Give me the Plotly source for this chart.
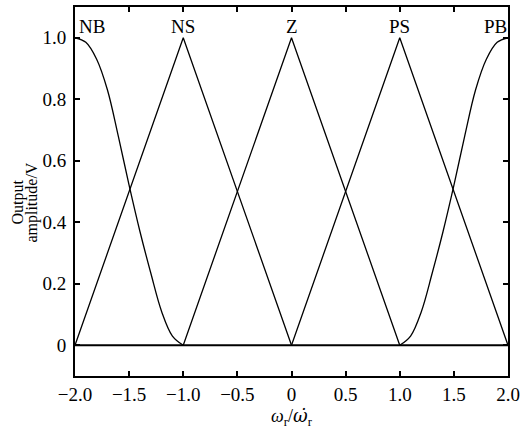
import plotly.graph_objects as go

# ---- data ----
nb_x = [-2.0, -1.9, -1.8, -1.7, -1.6, -1.5, -1.4, -1.3, -1.2, -1.1, -1.0]
nb_y = [1.0, 0.985, 0.93, 0.83, 0.68, 0.52, 0.37, 0.235, 0.11, 0.03, 0.0]
pb_x = [1.0, 1.1, 1.2, 1.3, 1.4, 1.5, 1.6, 1.7, 1.8, 1.9, 2.0]
pb_y = [0.0, 0.03, 0.11, 0.235, 0.37, 0.52, 0.68, 0.83, 0.93, 0.985, 1.0]
ns_x = [-2.0, -1.0, 0.0]
ns_y = [0.0, 1.0, 0.0]
z_x = [-1.0, 0.0, 1.0]
z_y = [0.0, 1.0, 0.0]
ps_x = [0.0, 1.0, 2.0]
ps_y = [0.0, 1.0, 0.0]
base_x = [-2.0, 2.0]
base_y = [0.0, 0.0]

set_names = ["NB", "NS", "Z", "PS", "PB"]
set_label_x = [-1.84, -1.0, 0.0, 1.0, 1.88]
set_label_y = [1.035, 1.035, 1.035, 1.035, 1.035]

x_ticks = [-2.0, -1.5, -1.0, -0.5, 0.0, 0.5, 1.0, 1.5, 2.0]
x_ticktext = ["\u22122.0", "\u22121.5", "\u22121.0", "\u22120.5", "0", "0.5", "1.0", "1.5", "2.0"]
y_ticks = [0.0, 0.2, 0.4, 0.6, 0.8, 1.0]
y_ticktext = ["0", "0.2", "0.4", "0.6", "0.8", "1.0"]

FONT = "Liberation Serif, Times New Roman, serif"

fig = go.Figure()
line = dict(color="black", width=1.3)
curve = dict(color="black", width=1.3, shape="spline", smoothing=1.0)
fig.add_trace(go.Scatter(x=nb_x, y=nb_y, mode="lines", line=curve, showlegend=False))
fig.add_trace(go.Scatter(x=ns_x, y=ns_y, mode="lines", line=line, showlegend=False))
fig.add_trace(go.Scatter(x=z_x, y=z_y, mode="lines", line=line, showlegend=False))
fig.add_trace(go.Scatter(x=ps_x, y=ps_y, mode="lines", line=line, showlegend=False))
fig.add_trace(go.Scatter(x=pb_x, y=pb_y, mode="lines", line=curve, showlegend=False))
fig.add_trace(go.Scatter(x=base_x, y=base_y, mode="lines", line=dict(color="black", width=2.2), showlegend=False))

for name, lx, ly in zip(set_names, set_label_x, set_label_y):
    fig.add_annotation(x=lx, y=ly, text=name, showarrow=False,
                       font=dict(family=FONT, size=19, color="black"),
                       xanchor="center", yanchor="middle")

fig.add_annotation(xref="paper", yref="paper", x=0, y=0.47, xshift=-57,
                   text="Output", textangle=-90, showarrow=False,
                   font=dict(family=FONT, size=16, color="black"),
                   xanchor="center", yanchor="middle")
fig.add_annotation(xref="paper", yref="paper", x=0, y=0.47, xshift=-43,
                   text="amplitude/V", textangle=-90, showarrow=False,
                   font=dict(family=FONT, size=16, color="black"),
                   xanchor="center", yanchor="middle")

fig.update_layout(
    width=525, height=436,
    margin=dict(l=75, r=12, t=5, b=60),
    paper_bgcolor="white", plot_bgcolor="white",
    font=dict(family=FONT, size=19, color="black"),
    xaxis=dict(range=[-2, 2], tickvals=x_ticks, ticktext=x_ticktext,
               ticks="inside", ticklen=5, tickwidth=1.5, tickcolor="black",
               showline=True, linecolor="black", linewidth=2, mirror="ticks",
               showgrid=False, zeroline=False,
               title=dict(text="<i>ω</i><sub>r</sub>/<span style=\"font-family:DejaVu Serif\"><i>ω\u0307</i></span><sub>r</sub>",
                          font=dict(family=FONT, size=18), standoff=4)),
    yaxis=dict(range=[-0.1, 1.1], tickvals=y_ticks, ticktext=y_ticktext,
               ticks="inside", ticklen=5, tickwidth=1.5, tickcolor="black",
               ticklabelstandoff=3,
               showline=True, linecolor="black", linewidth=2, mirror="ticks",
               showgrid=False, zeroline=False),
)

fig.write_html("out.html", config={"displayModeBar": False},
               post_script="document.body.style.margin='0';")
